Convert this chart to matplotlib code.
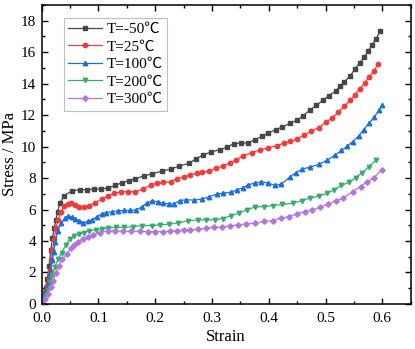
import matplotlib
matplotlib.use("Agg")
import matplotlib.pyplot as plt
from matplotlib.ticker import MultipleLocator

plt.rcParams['font.family'] = ['Liberation Serif', 'Noto Sans CJK SC']

labels = ['T=-50℃', 'T=25℃', 'T=100℃', 'T=200℃', 'T=300℃']
colors = ['#474747', '#F03C3C', '#1A6FDF', '#37AD6B', '#B177DE']
markers = ['s', 'o', '^', 'v', 'D']

strain_m50 = [0.0, 0.003, 0.007, 0.010, 0.013, 0.016, 0.019, 0.022, 0.025, 0.028, 0.032,
              0.040, 0.053, 0.067, 0.080, 0.093, 0.105, 0.116, 0.129, 0.141, 0.154, 0.165,
              0.180, 0.195, 0.212, 0.228, 0.242, 0.259, 0.272, 0.284, 0.299, 0.314, 0.327,
              0.338, 0.351, 0.364, 0.375, 0.388, 0.399, 0.412, 0.424, 0.437, 0.449, 0.460,
              0.472, 0.484, 0.495, 0.506, 0.518, 0.525, 0.533, 0.543, 0.552, 0.560, 0.568,
              0.575, 0.582, 0.589, 0.596]
stress_m50 = [0.08, 0.5, 1.0, 1.6, 2.4, 3.4, 4.2, 4.8, 5.35, 5.85, 6.4,
              6.89, 7.19, 7.25, 7.27, 7.29, 7.3, 7.36, 7.53, 7.7, 7.84, 7.95,
              8.14, 8.27, 8.44, 8.57, 8.76, 8.93, 9.22, 9.46, 9.67, 9.8, 9.97,
              10.18, 10.22, 10.24, 10.43, 10.64, 10.86, 11.07, 11.24, 11.47, 11.66, 11.94,
              12.3, 12.61, 12.93, 13.23, 13.53, 13.82, 14.12, 14.46, 14.93, 15.31, 15.67,
              16.05, 16.46, 16.84, 17.32]

strain_25 = [0.0, 0.003, 0.006, 0.009, 0.012, 0.015, 0.017, 0.019, 0.022, 0.025, 0.029,
             0.034, 0.040, 0.046, 0.052, 0.059, 0.066, 0.075, 0.084, 0.094, 0.106, 0.116,
             0.128, 0.140, 0.152, 0.165, 0.178, 0.192, 0.204, 0.214, 0.227, 0.239, 0.250,
             0.262, 0.273, 0.283, 0.295, 0.307, 0.320, 0.331, 0.343, 0.354, 0.370, 0.384,
             0.399, 0.414, 0.427, 0.438, 0.449, 0.462, 0.475, 0.489, 0.500, 0.511, 0.522,
             0.533, 0.543, 0.552, 0.561, 0.569, 0.577, 0.585, 0.593]
stress_25 = [0.05, 0.4, 0.8, 1.2, 1.6, 2.1, 2.8, 3.4, 4.1, 4.8, 5.35,
             5.85, 6.2, 6.35, 6.4, 6.28, 6.13, 6.15, 6.23, 6.44, 6.68, 6.83,
             7.04, 7.12, 7.14, 7.12, 7.3, 7.55, 7.68, 7.72, 7.76, 7.97, 8.06,
             8.2, 8.29, 8.38, 8.44, 8.61, 8.78, 8.95, 9.16, 9.4, 9.62, 9.78,
             9.92, 10.05, 10.22, 10.33, 10.45, 10.73, 10.99, 11.21, 11.53, 11.79, 12.17,
             12.55, 12.93, 13.3, 13.68, 14.04, 14.42, 14.78, 15.27]

strain_100 = [0.0, 0.003, 0.006, 0.009, 0.012, 0.015, 0.019, 0.021, 0.024, 0.028, 0.034,
              0.041, 0.047, 0.053, 0.059, 0.066, 0.073, 0.081, 0.088, 0.097, 0.106, 0.114,
              0.124, 0.135, 0.145, 0.155, 0.166, 0.176, 0.185, 0.195, 0.205, 0.214, 0.225,
              0.233, 0.243, 0.255, 0.268, 0.282, 0.294, 0.308, 0.320, 0.333, 0.344, 0.354,
              0.364, 0.375, 0.387, 0.399, 0.411, 0.422, 0.437, 0.448, 0.459, 0.473, 0.489,
              0.503, 0.516, 0.528, 0.538, 0.548, 0.559, 0.567, 0.577, 0.586, 0.594, 0.600]
stress_100 = [0.05, 0.35, 0.7, 1.05, 1.42, 1.95, 2.8, 3.3, 3.92, 4.66, 5.13,
              5.45, 5.6, 5.51, 5.41, 5.3, 5.17, 5.24, 5.34, 5.55, 5.73, 5.81,
              5.87, 5.92, 5.94, 5.94, 5.98, 6.15, 6.4, 6.57, 6.47, 6.4, 6.36,
              6.36, 6.57, 6.62, 6.6, 6.66, 6.79, 6.98, 7.04, 7.1, 7.25, 7.38,
              7.57, 7.68, 7.76, 7.68, 7.53, 7.61, 8.06, 8.35, 8.57, 8.7, 8.88,
              9.14, 9.44, 9.75, 10.01, 10.32, 10.69, 11.07, 11.49, 11.88, 12.3, 12.66]

strain_200 = [0.0, 0.005, 0.011, 0.015, 0.019, 0.023, 0.029, 0.035, 0.042, 0.050, 0.057,
              0.066, 0.075, 0.084, 0.095, 0.106, 0.117, 0.131, 0.145, 0.161, 0.177, 0.194,
              0.209, 0.225, 0.240, 0.258, 0.276, 0.290, 0.305, 0.319, 0.333, 0.347, 0.361,
              0.375, 0.391, 0.408, 0.424, 0.442, 0.458, 0.472, 0.489, 0.503, 0.515, 0.528,
              0.542, 0.553, 0.565, 0.577, 0.589]
stress_200 = [0.05, 0.46, 0.89, 1.42, 1.84, 2.37, 2.84, 3.26, 3.73, 4.12, 4.33,
              4.45, 4.54, 4.64, 4.71, 4.77, 4.81, 4.88, 4.86, 4.92, 4.98, 4.98,
              5.03, 5.07, 5.15, 5.28, 5.34, 5.34, 5.34, 5.43, 5.6, 5.77, 5.98,
              6.15, 6.19, 6.25, 6.32, 6.4, 6.57, 6.72, 6.86, 7.04, 7.25, 7.53,
              7.74, 8.02, 8.35, 8.73, 9.14]

strain_300 = [0.0, 0.005, 0.011, 0.016, 0.020, 0.025, 0.030, 0.036, 0.044, 0.052, 0.057,
              0.064, 0.072, 0.081, 0.091, 0.103, 0.116, 0.130, 0.144, 0.158, 0.173, 0.187,
              0.200, 0.213, 0.226, 0.238, 0.250, 0.262, 0.276, 0.289, 0.303, 0.317, 0.331,
              0.346, 0.360, 0.375, 0.391, 0.407, 0.421, 0.436, 0.450, 0.464, 0.477, 0.491,
              0.505, 0.518, 0.531, 0.548, 0.562, 0.573, 0.585, 0.599]
stress_300 = [0.05, 0.3, 0.64, 1.06, 1.48, 1.95, 2.42, 2.84, 3.18, 3.54, 3.75,
              3.96, 4.13, 4.28, 4.41, 4.54, 4.64, 4.64, 4.62, 4.62, 4.62, 4.6,
              4.6, 4.6, 4.62, 4.66, 4.71, 4.71, 4.75, 4.81, 4.88, 4.88, 4.96,
              5.03, 5.09, 5.13, 5.24, 5.3, 5.45, 5.55, 5.73, 5.87, 5.98, 6.15,
              6.36, 6.55, 6.72, 7.14, 7.46, 7.76, 8.0, 8.52]

strains = [strain_m50, strain_25, strain_100, strain_200, strain_300]
stresses = [stress_m50, stress_25, stress_100, stress_200, stress_300]

fig = plt.figure(figsize=(4.15, 3.49), dpi=100)
ax = fig.add_axes([0.1005, 0.129, 0.889, 0.857])

for x, y, c, m, lab in zip(strains, stresses, colors, markers, labels):
    ax.plot(x, y, color=c, marker=m, markersize=3.2 if m != 'D' else 2.8,
            linewidth=0.9, label=lab)

ax.set_xlim(0, 0.65)
ax.set_ylim(0, 19)
ax.xaxis.set_major_locator(MultipleLocator(0.1))
ax.xaxis.set_minor_locator(MultipleLocator(0.05))
ax.yaxis.set_major_locator(MultipleLocator(2))
ax.yaxis.set_minor_locator(MultipleLocator(1))
ax.set_xticks([0, 0.1, 0.2, 0.3, 0.4, 0.5, 0.6])
ax.set_xticklabels(['0.0', '0.1', '0.2', '0.3', '0.4', '0.5', '0.6'])
ax.tick_params(which='both', direction='in', top=True, right=True, labelsize=11, width=1)
ax.tick_params(which='major', length=4)
ax.tick_params(which='minor', length=2.5)
ax.tick_params(axis='x', pad=6)
ax.tick_params(axis='y', pad=4)
for s in ax.spines.values():
    s.set_linewidth(1.1)

ax.set_xlabel('Strain', fontsize=12, labelpad=3)
ax.set_ylabel('Stress / MPa', fontsize=12, labelpad=2)

leg = ax.legend(loc='upper left', bbox_to_anchor=(0.06, 0.957), fontsize=11,
                frameon=True, fancybox=False, edgecolor='#b0b0b0', handlelength=2.2,
                handletextpad=0.3, labelspacing=0.25, borderpad=0.3, borderaxespad=0)
leg.get_frame().set_linewidth(0.8)

fig.savefig('out.png', dpi=100)
